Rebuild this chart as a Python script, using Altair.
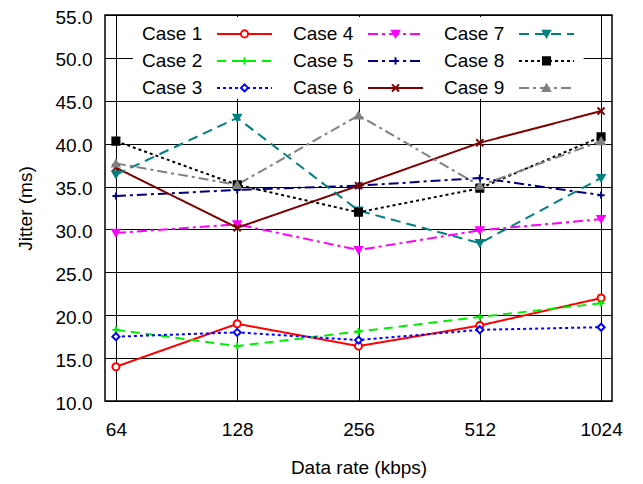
import altair as alt
import pandas as pd

rates = ["64", "128", "256", "512", "1024"]
cases = ["Case 1", "Case 2", "Case 3", "Case 4", "Case 5", "Case 6", "Case 7", "Case 8", "Case 9"]
case1 = [14.0, 19.0, 16.4, 18.8, 22.0]
case2 = [18.3, 16.4, 18.1, 19.8, 21.4]
case3 = [17.5, 18.0, 17.1, 18.3, 18.6]
case4 = [29.6, 30.6, 27.6, 29.9, 31.2]
case5 = [33.9, 34.6, 35.1, 36.0, 34.0]
case6 = [37.2, 30.2, 35.1, 40.1, 43.8]
case7 = [36.4, 43.0, 32.2, 28.4, 36.0]
case8 = [40.3, 35.2, 32.0, 34.8, 40.8]
case9 = [37.7, 35.2, 43.3, 35.1, 40.3]
series = [case1, case2, case3, case4, case5, case6, case7, case8, case9]

colors = ["#ff0000", "#00ee00", "#0000ff", "#ff00ff", "#000080", "#800000", "#008080", "#000000", "#808080"]
fills = ["#ffffff", "#00ee00", "#ffffff", "#ff00ff", "#000080", "#800000", "#008080", "#000000", "#808080"]
dashes = [[1, 0], [9, 6], [3, 3], [10, 4, 3, 4], [10, 4, 3, 4], [1, 0], [10, 6], [3, 3], [10, 4, 3, 4]]
shapes = ["circle", "M-1,0L1,0M0,-1L0,1", "diamond", "triangle-down", "M-1,0L1,0M0,-1L0,1",
          "M-1,-1L1,1M-1,1L1,-1", "triangle-down", "square", "triangle-up"]

FONT = "Liberation Sans"
FS = 19

rows = []
for name, vals in zip(cases, series):
    for r, v in zip(rates, vals):
        rows.append({"case": name, "rate": r, "jitter": v})
df = pd.DataFrame(rows)

leg = pd.DataFrame({"case": cases, "col": [i // 3 for i in range(9)], "row": [i % 3 for i in range(9)]})

color_sc = alt.Scale(domain=cases, range=colors)
fill_sc = alt.Scale(domain=cases, range=fills)
dash_sc = alt.Scale(domain=cases, range=dashes)
shape_sc = alt.Scale(domain=cases, range=shapes)

axis_style = dict(labelFont=FONT, titleFont=FONT, labelFontSize=FS, titleFontSize=FS,
                  titleFontWeight="normal", labelColor="black", titleColor="black",
                  ticks=False, grid=True, gridColor="#000000", gridWidth=1, domain=False)

xs = alt.X("rate:O", sort=rates, scale=alt.Scale(type="point", padding=0.09),
           axis=alt.Axis(title="Data rate (kbps)", labelAngle=0, labelPadding=19, titlePadding=19,
                         **axis_style))
ys = alt.Y("jitter:Q", scale=alt.Scale(domain=[10, 55], nice=False, zero=False),
           axis=alt.Axis(title="Jitter (ms)", values=list(range(10, 56, 5)), format=".1f",
                         labelPadding=13, titlePadding=20, labelOffset=2, **axis_style))

lines = alt.Chart(df).mark_line(strokeWidth=2).encode(
    x=xs, y=ys,
    color=alt.Color("case:N", scale=color_sc, legend=None),
    strokeDash=alt.StrokeDash("case:N", scale=dash_sc, legend=None),
    detail="case:N",
)
points = alt.Chart(df).mark_point(size=50, strokeWidth=2, opacity=1, fillOpacity=1).encode(
    x=xs, y=ys,
    stroke=alt.Stroke("case:N", scale=color_sc, legend=None),
    fill=alt.Fill("case:N", scale=fill_sc, legend=None),
    shape=alt.Shape("case:N", scale=shape_sc, legend=None),
)
main = alt.layer(lines, points)

lx_sc = alt.Scale(domain=[0, 507 / 151], nice=False, zero=False)
ly_sc = alt.Scale(domain=[-0.7, 386 / 27 - 0.7], nice=False, zero=False, reverse=True)

box = alt.Chart(pd.DataFrame({"a": [0]})).mark_rect(color="white").encode(
    x=alt.X("x1:Q", scale=lx_sc, axis=None), x2="x2:Q",
    y=alt.Y("y1:Q", scale=ly_sc, axis=None), y2="y2:Q",
).transform_calculate(x1="0.185", x2="3.17", y1="-0.63", y2="2.4")

base = alt.Chart(leg)
leg_rules = base.mark_rule(strokeWidth=2).encode(
    x=alt.X("a:Q", scale=lx_sc, axis=None), x2="b:Q",
    y=alt.Y("row:Q", scale=ly_sc, axis=None),
    color=alt.Color("case:N", scale=color_sc, legend=None),
    strokeDash=alt.StrokeDash("case:N", scale=dash_sc, legend=None),
).transform_calculate(a="datum.col + 0.742", b="datum.col + 1.106")
leg_pts = base.mark_point(size=50, strokeWidth=2, opacity=1, fillOpacity=1).encode(
    x=alt.X("m:Q", scale=lx_sc, axis=None),
    y=alt.Y("row:Q", scale=ly_sc, axis=None),
    stroke=alt.Stroke("case:N", scale=color_sc, legend=None),
    fill=alt.Fill("case:N", scale=fill_sc, legend=None),
    shape=alt.Shape("case:N", scale=shape_sc, legend=None),
).transform_calculate(m="datum.col + 0.924")
leg_txt = base.mark_text(align="left", baseline="middle", fontSize=FS, font=FONT, color="black").encode(
    x=alt.X("t:Q", scale=lx_sc, axis=None),
    y=alt.Y("row:Q", scale=ly_sc, axis=None),
    text="case:N",
).transform_calculate(t="datum.col + 0.245")
legend = alt.layer(box, leg_rules, leg_pts, leg_txt)

chart = alt.layer(main, legend).resolve_scale(x="independent", y="independent").properties(
    width=507, height=386,
    background="white",
    autosize=alt.AutoSizeParams(type="none"),
    padding={"left": 97, "top": 7, "right": 20, "bottom": 82},
).configure_view(stroke="black", strokeWidth=1.5)

chart.save("out.html", embed_options={"renderer": "svg", "actions": False})
